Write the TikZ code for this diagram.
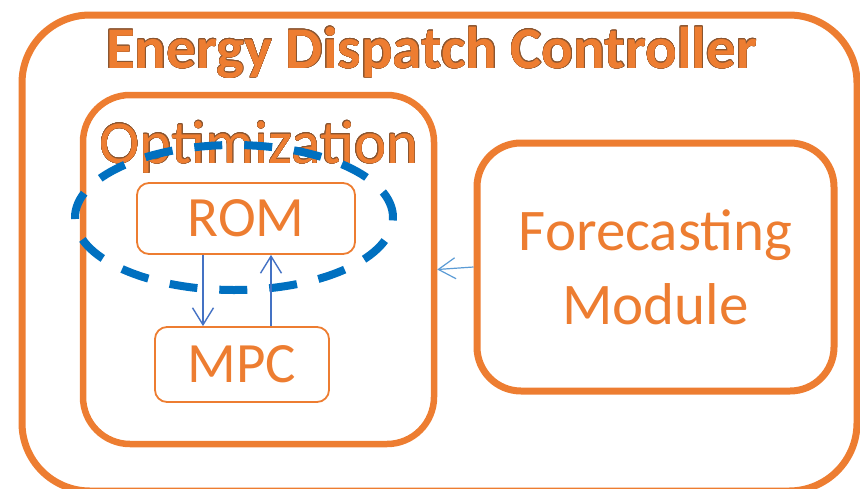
\documentclass[tikz,border=0pt]{standalone}
\usepackage{fontspec}
\setmainfont{Carlito}
\usepackage{contour}
\contourlength{0.4pt}
\usetikzlibrary{arrows.meta,shapes.geometric}

\definecolor{edcorange}{HTML}{ED7D31}
\definecolor{edcedge}{HTML}{8A5530}
\definecolor{romblue}{HTML}{0070C0}
\definecolor{linkblue}{HTML}{4472C4}
\definecolor{fcblue}{HTML}{5B9BD5}

\begin{document}
\begin{tikzpicture}[x=1pt, y=-1pt,
	bigbox/.style={shape=rectangle, draw=edcorange, line width=7pt, inner sep=0pt, rounded corners=#1},
	smallbox/.style={shape=rectangle, draw=edcorange, line width=1.8pt, inner sep=0pt, rounded corners=12pt,
		text=edcorange, font=\fontsize{57}{68}\selectfont},
	link/.style={draw=linkblue, line width=1.4pt, -{Straight Barb[length=17pt, width=21pt]}}
	]
	\useasboundingbox (0,0) rectangle (860,488);
	\clip (0,0) rectangle (860,488);
	
	\node (edc)[bigbox=68pt, minimum width=835pt, minimum height=476pt] 
	at (439.5,253){};
	
	\node (title)[anchor=base, text=edcorange, font=\fontsize{59}{70}\selectfont\bfseries] 
	at (431.5,68){
		\contour{edcedge}{Energy Dispatch Controller}
	};
	
	\node (opt)[bigbox=47pt, line width=6.5pt, minimum width=351pt, minimum height=349pt] 
	at (258.5,269.5){};
	
	\node (opttitle)[anchor=base, text=edcorange, font=\fontsize{61}{72}\selectfont] 
	at (259,163){
		\contour{edcedge}{Optimization}
	};
	
	\node (rom)[smallbox, minimum width=218pt, minimum height=71pt] 
	at (246,218.5){ROM};
	
	\node (mpc)[smallbox, minimum width=174pt, minimum height=75pt] 
	at (242,364.5){MPC};
	
	\node (fcm)[bigbox=44pt, minimum width=357pt, minimum height=248pt, align=center, 
		text=edcorange, font=\fontsize{59}{74}\selectfont] 
	at (655.5,267){
		Forecasting \\ Module
	};
	
	\node (romgroup)[shape=ellipse, draw=romblue, line width=8pt, dash pattern=on 28pt off 22pt, 
		minimum width=318pt, minimum height=145pt, inner sep=0pt] 
	at (234,217.5){};
	
	\draw[link] ([xshift=-43pt]rom.south) -- ([xshift=-39pt]mpc.north);
	\draw[link] ([xshift=29pt]mpc.north) -- ([xshift=25pt]rom.south);
	\draw[link, draw=fcblue, line width=1.2pt] (fcm.west) -- (opt.east);
\end{tikzpicture}
\end{document}
